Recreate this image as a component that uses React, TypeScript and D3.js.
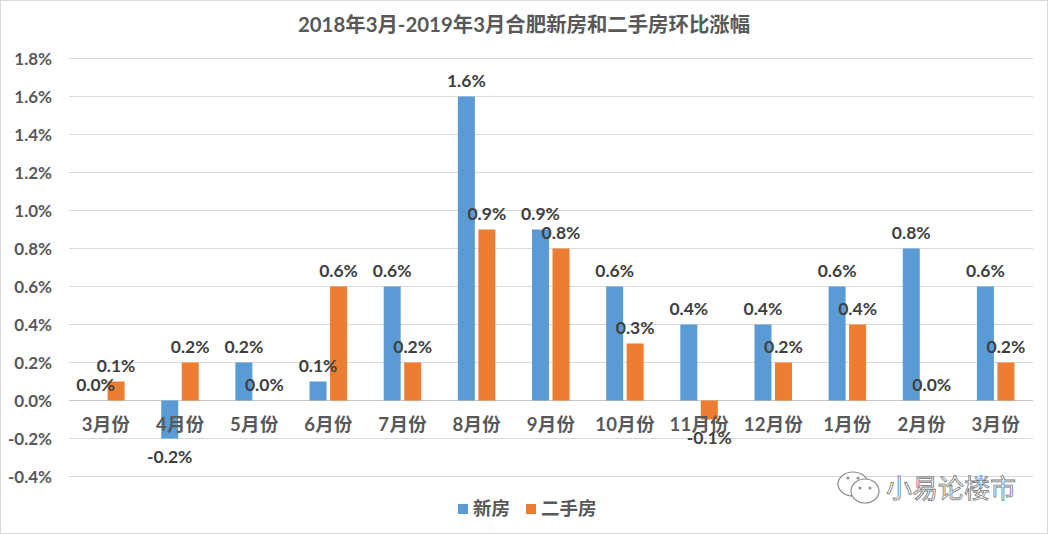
import React from "react";
import * as d3 from "d3";

const months = ["3月份", "4月份", "5月份", "6月份", "7月份", "8月份", "9月份", "10月份", "11月份", "12月份", "1月份", "2月份", "3月份 "];
const newHome = [0.0, -0.2, 0.2, 0.1, 0.6, 1.6, 0.9, 0.6, 0.4, 0.4, 0.6, 0.8, 0.6];
const resale = [0.1, 0.2, 0.0, 0.6, 0.2, 0.9, 0.8, 0.3, -0.1, 0.2, 0.4, 0.0, 0.2];
const yTicks = [-0.4, -0.2, 0, 0.2, 0.4, 0.6, 0.8, 1.0, 1.2, 1.4, 1.6, 1.8];
const seriesNames = ["新房", "二手房"];
const colors = ["#5b9bd5", "#ed7d31"];

const W = 1048;
const H = 534;
const FONT = "Lato, 'Noto Sans CJK SC', sans-serif";

const x = d3.scaleBand<string>().domain(months).range([69, 1033]);
const y = d3.scaleLinear().domain([-0.4, 1.8]).range([476.5, 58.5]);
const barW = 17;
const offset = [-10.5, 10];

const pct = (v: number) => `${v.toFixed(1)}%`;

export default function App() {
  const series = [newHome, resale];
  return (
    <svg width={W} height={H} style={{ position: "absolute", left: 0, top: 0, background: "#fff" }} fontFamily={FONT} fontWeight={700}>
      <rect x={0.5} y={0.5} width={W - 1} height={H - 1} fill="none" stroke="#d9d9d9" />
      <text x={524} y={32} textAnchor="middle" fontSize={20.4} fill="#595959">
        2018年3月-2019年3月合肥新房和二手房环比涨幅
      </text>

      {yTicks.map((t) => (
        <g key={t}>
          <line x1={69} x2={1033} y1={y(t)} y2={y(t)} stroke={t === 0 ? "#c8c8c8" : "#d9d9d9"} />
          <text x={52} y={y(t) + 6} textAnchor="end" fontSize={17} fill="#595959">
            {pct(t)}
          </text>
        </g>
      ))}

      {series.map((vals, s) =>
        vals.map((v, i) => {
          const cx = x(months[i])! + x.bandwidth() / 2 + offset[s];
          return (
            <rect
              key={`${s}-${i}`}
              x={cx - barW / 2}
              y={y(Math.max(v, 0))}
              width={barW}
              height={Math.abs(y(v) - y(0))}
              fill={colors[s]}
            />
          );
        })
      )}

      {months.map((m) => (
        <text key={m} x={x(m)! + x.bandwidth() / 2} y={431} textAnchor="middle" fontSize={18.5} letterSpacing={0.3} fill="#595959">
          {m.trim()}
        </text>
      ))}

      {series.map((vals, s) =>
        vals.map((v, i) => {
          const cx = x(months[i])! + x.bandwidth() / 2 + offset[s];
          return (
            <text
              key={`l${s}-${i}`}
              x={cx}
              y={v < 0 ? y(v) + 24 : y(v) - 10}
              textAnchor="middle"
              fontSize={17.5}
              fill="#404040"
            >
              {pct(v)}
            </text>
          );
        })
      )}

      <g fontSize={18.5} fill="#595959">
        <rect x={458} y={504} width={10} height={10} fill={colors[0]} />
        <text x={473} y={515}>{seriesNames[0]}</text>
        <rect x={526} y={504} width={10} height={10} fill={colors[1]} />
        <text x={541} y={515}>{seriesNames[1]}</text>
      </g>

      {/* watermark */}
      <g fill="#fff" stroke="#8c8c8c" strokeWidth={1.2}>
        <ellipse cx={853} cy={484} rx={15} ry={12} />
        <ellipse cx={865} cy={491} rx={14} ry={12} />
        <circle cx={848} cy={478} r={1} />
        <circle cx={858} cy={478} r={1} />
        <circle cx={860} cy={488} r={1} />
        <circle cx={870} cy={488} r={1} />
      </g>
      <text x={886} y={498} fontSize={26} fontWeight={400} fill="#fff" stroke="#777" strokeWidth={0.8} fontFamily="'Noto Sans CJK SC', sans-serif">
        小易论楼市
      </text>
    </svg>
  );
}
